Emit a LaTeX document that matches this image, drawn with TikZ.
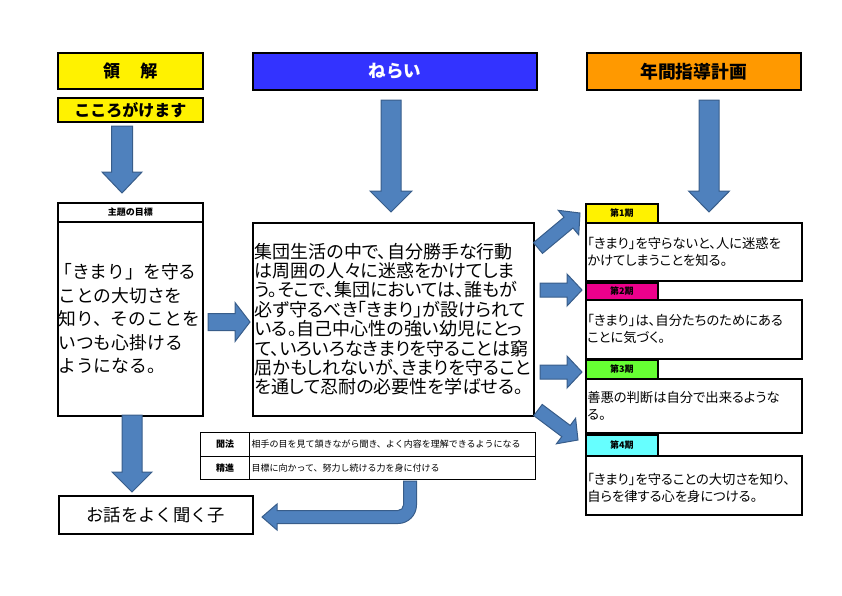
\documentclass[tikz,border=0pt]{standalone}
\usepackage{fontspec}
\setmainfont{Noto Sans CJK JP}
\newfontfamily\pfont{Noto Sans CJK JP}[RawFeature=+palt]
\usetikzlibrary{calc}
\definecolor{arrowfill}{HTML}{4F81BD}
\definecolor{arrowline}{HTML}{385D8A}
\definecolor{neraiblue}{HTML}{3333FF}
\definecolor{planorange}{HTML}{FF9900}
\definecolor{kigreen}{HTML}{66FF33}
\definecolor{kicyan}{HTML}{66FFFF}
\newcommand{\fs}[2]{\fontsize{#1}{#2}\selectfont}
% from, to, half shaft, half head, head length
\newcommand{\blockarrow}[5]{%
\coordinate (bh) at ($(#2)!#5!(#1)$);
\draw [bigarrow] ($(#1)!#3!90:(#2)$) -- ($(bh)!#3!90:(#2)$) -- ($(bh)!#4!90:(#2)$) -- (#2)
  -- ($(bh)!#4!-90:(#2)$) -- ($(bh)!#3!-90:(#2)$) -- ($(#1)!#3!-90:(#2)$) -- cycle;}

\begin{document}
\begin{tikzpicture}[x=1pt,y=1pt,
  box/.style={draw=black, line width=1.5pt, rectangle, anchor=north west},
  cell/.style={draw=black, line width=1pt, rectangle, anchor=north west, minimum height=23.5},
  bigarrow/.style={fill=arrowfill, draw=arrowline, line width=1pt, line join=miter}]
\tikzstyle{every node}+=[inner sep=0pt]
\useasboundingbox (0,0) rectangle (842,-595);
\node [box, fill=yellow, minimum width=145, minimum height=36, font=\bfseries\fs{17}{20}] (ryoge) at (57,-52) {領\hspace{1.2em}解};
\node [box, fill=yellow, minimum width=145, minimum height=24, font=\bfseries\fs{16}{18}] (kokoro) at (57,-97) {こころがけます};
\node [box, fill=neraiblue, text=white, minimum width=284, minimum height=37, font=\bfseries\fs{17.5}{20}] (nerai) at (252,-52) {ねらい};
\node [box, fill=planorange, minimum width=214, minimum height=37, font=\bfseries\fs{17.8}{20}] (nenkan) at (586,-52) {年間指導計画};
\node [box, minimum width=145, minimum height=19, font=\bfseries\fs{9}{11}] (goalhd) at (57,-202) {主題の目標};
\node [box, minimum height=194, text width=144, inner xsep=0.5, align=left, font=\fs{17.8}{23.5}] (goal) at (57,-221)
  {\hspace{-4pt}「きまり」を守る\\ことの大切さを\\知り、そのことを\\いつも心掛ける\\ようになる。};
\node [box, minimum height=193, text width=277, inner xsep=2, align=left, font=\pfont\fs{18}{19.4}] (aim) at (252,-222)
  {集団生活の中で、自分勝手な行動\\は周囲の人々に迷惑をかけてしま\\う。そこで、集団においては、誰もが\\必ず守るべき「きまり」が設けられて\\いる。自己中心性の強い幼児にとっ\\て、いろいろなきまりを守ることは窮\\屈かもしれないが、きまりを守ること\\を通して忍耐の必要性を学ばせる。};
\node [box, fill=yellow, minimum width=72, minimum height=19, font=\bfseries\fs{9}{11}] (k1hd) at (585,-203) {第1期};
\node [box, minimum height=58, text width=213, inner xsep=1.5, align=left, font=\pfont\fs{13.3}{17}] (k1) at (585,-222)
  {「きまり」を守らないと、人に迷惑を\\かけてしまうことを知る。};
\node [box, fill=magenta, minimum width=72, minimum height=17, font=\bfseries\fs{9}{11}] (k2hd) at (585,-282) {第2期};
\node [box, minimum height=59, text width=213, inner xsep=1.5, align=left, font=\pfont\fs{13.3}{17}] (k2) at (585,-299)
  {「きまり」は、自分たちのためにある\\ことに気づく。};
\node [box, fill=kigreen, minimum width=72, minimum height=19, font=\bfseries\fs{9}{11}] (k3hd) at (585,-359) {第3期};
\node [box, minimum height=54, text width=213, inner xsep=1.5, align=left, font=\pfont\fs{13.3}{17}] (k3) at (585,-378)
  {善悪の判断は自分で出来るような\\る。};
\node [box, fill=kicyan, minimum width=72, minimum height=21, font=\bfseries\fs{9}{11}] (k4hd) at (585,-434) {第4期};
\node [box, minimum height=59, text width=213, inner xsep=1.5, align=left, font=\pfont\fs{13.3}{17}] (k4) at (585,-455)
  {\rule{0pt}{16pt}「きまり」を守ることの大切さを知り、\\自らを律する心を身につける。};
\node [cell, minimum width=49, font=\bfseries\fs{9}{11}] (monL) at (200,-432) {聞法};
\node [cell, text width=282, inner xsep=2, align=left, font=\fs{9}{11}] (monR) at (249,-432) {相手の目を見て頷きながら聞き、よく内容を理解できるようになる};
\node [cell, minimum width=49, font=\bfseries\fs{9}{11}] (seiL) at (200,-455.5) {精進};
\node [cell, text width=282, inner xsep=2, align=left, font=\fs{9}{11}] (seiR) at (249,-455.5) {目標に向かって、努力し続ける力を身に付ける};
\node [box, minimum width=194, minimum height=38, font=\fs{17.3}{20}] (kiku) at (58,-495) {お話をよく聞く子\hspace{6pt}};
\coordinate (a1s) at (122,-126);
\coordinate (a1e) at (122,-193);
\coordinate (a2s) at (391,-100);
\coordinate (a2e) at (391,-212);
\coordinate (a3s) at (709,-100);
\coordinate (a3e) at (709,-212);
\coordinate (a4s) at (208,-322);
\coordinate (a4e) at (250,-322);
\coordinate (a5s) at (132,-415);
\coordinate (a5e) at (132,-492);
\coordinate (r1s) at (538,-248);
\coordinate (r1e) at (580,-213);
\coordinate (r2s) at (540,-290);
\coordinate (r2e) at (582,-290);
\coordinate (r3s) at (540,-372);
\coordinate (r3e) at (582,-372);
\coordinate (r4s) at (538,-410);
\coordinate (r4e) at (578,-440);
\blockarrow{a1s}{a1e}{10.5pt}{20pt}{21pt}
\blockarrow{a2s}{a2e}{10pt}{21pt}{21pt}
\blockarrow{a3s}{a3e}{10pt}{20.5pt}{21pt}
\blockarrow{a4s}{a4e}{8.5pt}{19.5pt}{15pt}
\blockarrow{a5s}{a5e}{10pt}{20pt}{20pt}
\blockarrow{r1s}{r1e}{7pt}{16pt}{15pt}
\blockarrow{r2s}{r2e}{7pt}{16pt}{15pt}
\blockarrow{r3s}{r3e}{7pt}{16pt}{15pt}
\blockarrow{r4s}{r4e}{7pt}{16pt}{15pt}
\draw [bigarrow] (403.5,-481) -- (416.5,-481) -- (416.5,-505) arc [start angle=0, end angle=-90, radius=18.5]
  -- (277,-523.5) -- (277,-530) -- (262,-517) -- (277,-504) -- (277,-510.5) -- (398,-510.5)
  arc [start angle=-90, end angle=0, radius=5.5] -- cycle;
\end{tikzpicture}
\end{document}
